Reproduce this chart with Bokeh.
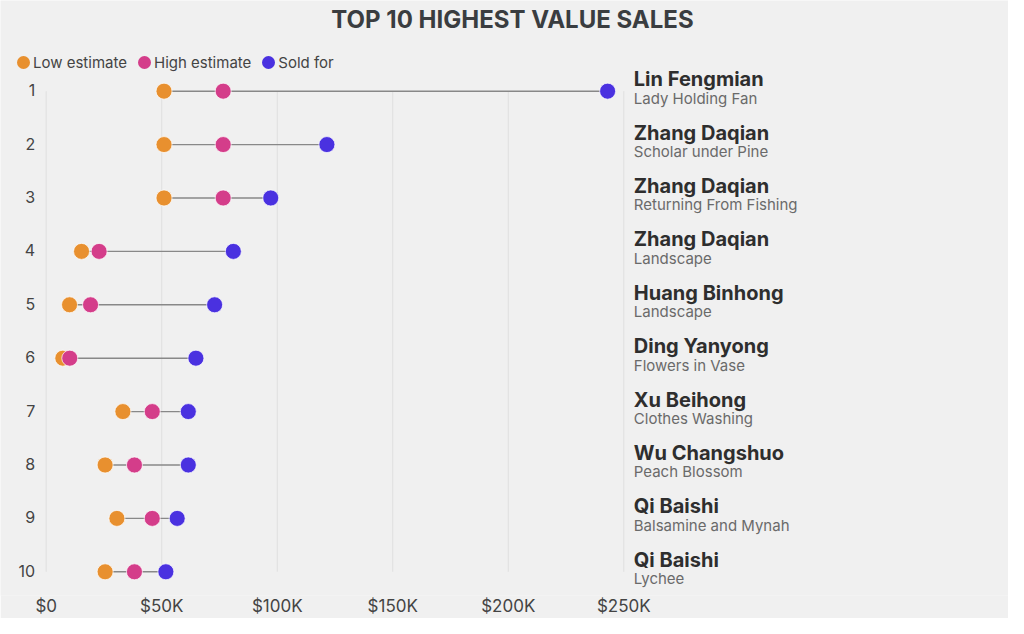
from bokeh.plotting import figure
from bokeh.models import (ColumnDataSource, Range1d, FixedTicker, Legend, LegendItem, Label)
from bokeh.core.properties import value
from bokeh.embed import file_html
from bokeh.resources import INLINE

# ---- data ----
rank = [1, 2, 3, 4, 5, 6, 7, 8, 9, 10]
rank_labels = [str(r) for r in rank]
artists = ["Lin Fengmian", "Zhang Daqian", "Zhang Daqian", "Zhang Daqian", "Huang Binhong",
           "Ding Yanyong", "Xu Beihong", "Wu Changshuo", "Qi Baishi", "Qi Baishi"]
works = ["Lady Holding Fan", "Scholar under Pine", "Returning From Fishing", "Landscape", "Landscape",
         "Flowers in Vase", "Clothes Washing", "Peach Blossom", "Balsamine and Mynah", "Lychee"]
low_estimate = [51000, 51000, 51000, 15300, 10100, 7200, 33200, 25500, 30600, 25500]
high_estimate = [76600, 76600, 76600, 22900, 19200, 10200, 45900, 38200, 45900, 38200]
sold_for = [243000, 121500, 97200, 81000, 72900, 64800, 61500, 61500, 56700, 51800]
x_ticks = [0, 50000, 100000, 150000, 200000, 250000]
x_tick_labels = ["$0", "$50K", "$100K", "$150K", "$200K", "$250K"]
title_text = "TOP 10 HIGHEST VALUE SALES"
series_names = ["Low estimate", "High estimate", "Sold for"]

# ---- styles ----
FONT = "Inter"
BG = "#f0f0f0"
C_LOW = "#e8902f"
C_HIGH = "#d43d8a"
C_SOLD = "#4a31e0"
COLORS = [C_LOW, C_HIGH, C_SOLD]
COLS = ["low", "high", "sold"]

W, H = 1008, 618
MB = 21
FRAME_H = H - MB

src = ColumnDataSource(dict(rank=rank, rank_label=rank_labels, artist=artists, work=works,
                            low=low_estimate, high=high_estimate, sold=sold_for))

p = figure(width=W, height=H, output_backend="svg", toolbar_location=None,
           x_range=Range1d(-19780, 416510), y_range=Range1d(10.444, -0.698),
           y_axis_location=None,
           min_border_left=0, min_border_right=0, min_border_top=0, min_border_bottom=MB,
           background_fill_color=BG, border_fill_color=BG, outline_line_color=None)
p.xgrid.visible = False
p.ygrid.visible = False

# vertical grid lines spanning rank rows only
grid_src = ColumnDataSource(dict(x=x_ticks, y0=[min(rank)] * len(x_ticks), y1=[max(rank)] * len(x_ticks)))
p.segment(x0="x", y0="y0", x1="x", y1="y1", source=grid_src, line_color="#dfdfdf", line_width=1)

# connectors
p.segment(x0="low", y0="rank", x1="sold", y1="rank", source=src, line_color="#888888", line_width=1.4)

for col, c in zip(COLS, COLORS):
    p.scatter(col, "rank", source=src, size=16, fill_color=c, line_color="white", line_width=1, line_alpha=0.7)

# hidden legend-only renderers so the legend swatch can be sized independently
legend_renderers = []
for col, c in zip(COLS, COLORS):
    r = p.scatter(col, "rank", source=src, size=8, fill_color=c, line_color=c, line_width=5)
    r.visible = False
    legend_renderers.append(r)

# rank labels (left)
p.text(x=min(x_ticks), y="rank", text="rank_label", source=src, x_offset=-11, y_offset=-1,
       text_font=value(FONT), text_font_size="16px", text_color="#444444",
       text_baseline="middle", text_align="right")

# right side labels
p.text(x=max(x_ticks), y="rank", text="artist", source=src, x_offset=10, y_offset=-12,
       text_font=value(FONT), text_font_style="bold", text_font_size="20px", text_color="#2e2e2e",
       text_baseline="alphabetic", text_align="left")
p.text(x=max(x_ticks), y="rank", text="work", source=src, x_offset=10, y_offset=7,
       text_font=value(FONT), text_font_size="15px", text_color="#6a6a6a",
       text_baseline="alphabetic", text_align="left")

# x axis
p.xaxis.ticker = FixedTicker(ticks=x_ticks)
p.xaxis.major_label_overrides = {t: l for t, l in zip(x_ticks, x_tick_labels)}
p.xaxis.axis_line_color = None
p.xaxis.major_tick_line_color = None
p.xaxis.minor_tick_line_color = None
p.xaxis.major_tick_out = 0
p.xaxis.major_tick_in = 0
p.xaxis.major_label_standoff = 0
p.xaxis.major_label_text_font = FONT
p.xaxis.major_label_text_font_size = "17px"
p.xaxis.major_label_text_color = "#444444"

# legend
legend = Legend(items=[LegendItem(label=n, renderers=[r]) for n, r in zip(series_names, legend_renderers)],
                orientation="horizontal", location=(13, FRAME_H - 74),
                glyph_width=20, glyph_height=20, label_standoff=0, spacing=7,
                padding=0, margin=0, border_line_color=None, background_fill_alpha=0,
                inactive_fill_alpha=0,
                label_text_font=FONT, label_text_font_size="15px", label_text_color="#444444")
p.add_layout(legend, "center")

# title
p.add_layout(Label(x=W / 2 + 8, y=FRAME_H - 21, x_units="screen", y_units="screen",
                   text=title_text, text_align="center", text_baseline="middle",
                   text_font=FONT, text_font_style="bold", text_font_size="24px", text_color="#3a3d40"))

open("out.html", "w").write(file_html(p, INLINE))
